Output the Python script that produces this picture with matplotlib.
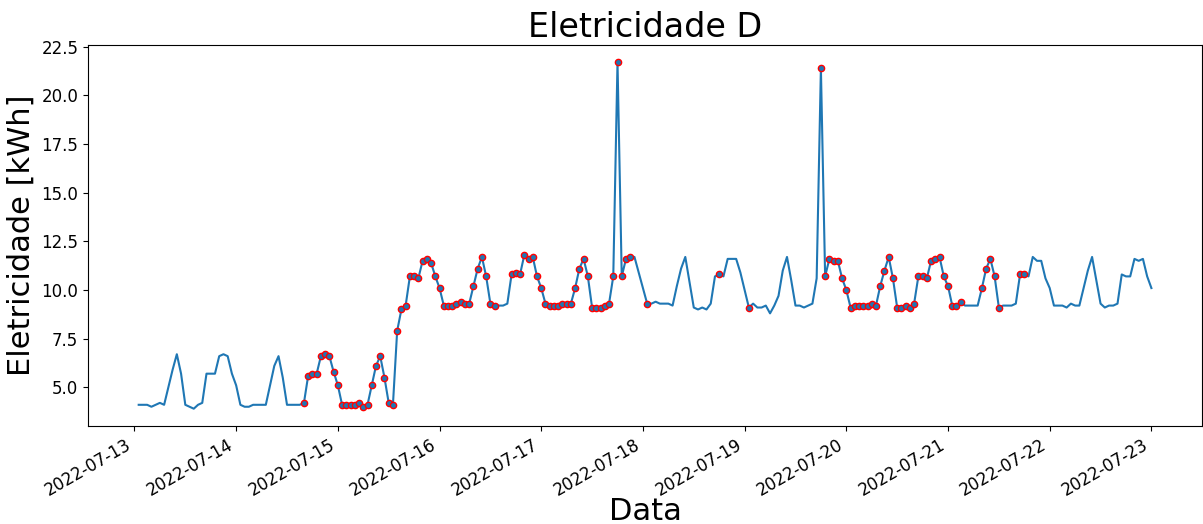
import numpy as np
import pandas as pd
import matplotlib
matplotlib.use('Agg')
import matplotlib.pyplot as plt
import matplotlib.dates as mdates

# consumo horario, 2022-07-13 01:00 ate 2022-07-23 00:00
inicio = "2022-07-13 01:00"
consumo = [
    4.1, 4.1, 4.1, 4.0, 4.1, 4.2, 4.1, 5.0, 5.9, 6.7, 5.7, 4.1,
    4.0, 3.9, 4.1, 4.2, 5.7, 5.7, 5.7, 6.6, 6.7, 6.6, 5.7, 5.1,
    4.1, 4.0, 4.0, 4.1, 4.1, 4.1, 4.1, 5.1, 6.1, 6.6, 5.5, 4.1,
    4.1, 4.1, 4.1, 4.2, 5.6, 5.7, 5.7, 6.6, 6.7, 6.6, 5.8, 5.1,
    4.1, 4.1, 4.1, 4.1, 4.2, 4.0, 4.1, 5.1, 6.1, 6.6, 5.5, 4.2,
    4.1, 7.9, 9.0, 9.2, 10.7, 10.7, 10.6, 11.5, 11.6, 11.4, 10.7, 10.1,
    9.2, 9.2, 9.2, 9.3, 9.4, 9.3, 9.3, 10.2, 11.1, 11.7, 10.7, 9.3,
    9.2, 9.2, 9.2, 9.3, 10.8, 10.9, 10.8, 11.8, 11.6, 11.7, 10.7, 10.1,
    9.3, 9.2, 9.2, 9.2, 9.3, 9.3, 9.3, 10.1, 11.1, 11.6, 10.7, 9.1,
    9.1, 9.1, 9.2, 9.3, 10.7, 21.7, 10.7, 11.6, 11.7, 11.7, 10.9, 10.1,
    9.3, 9.3, 9.4, 9.3, 9.3, 9.3, 9.2, 10.2, 11.1, 11.7, 10.4, 9.1,
    9.0, 9.1, 9.0, 9.3, 10.7, 10.8, 10.7, 11.6, 11.6, 11.6, 10.9, 10.0,
    9.1, 9.3, 9.1, 9.1, 9.2, 8.8, 9.2, 9.7, 11.0, 11.7, 10.5, 9.2,
    9.2, 9.1, 9.2, 9.3, 10.6, 21.4, 10.7, 11.6, 11.5, 11.5, 10.6, 10.0,
    9.1, 9.2, 9.2, 9.2, 9.2, 9.3, 9.2, 10.2, 11.0, 11.7, 10.6, 9.1,
    9.1, 9.2, 9.1, 9.3, 10.7, 10.7, 10.6, 11.5, 11.6, 11.7, 10.7, 10.2,
    9.2, 9.2, 9.4, 9.2, 9.2, 9.2, 9.2, 10.1, 11.1, 11.6, 10.7, 9.1,
    9.2, 9.2, 9.2, 9.3, 10.8, 10.8, 10.7, 11.7, 11.5, 11.5, 10.6, 10.1,
    9.2, 9.2, 9.2, 9.1, 9.3, 9.2, 9.2, 10.1, 11.0, 11.7, 10.5, 9.3,
    9.1, 9.2, 9.2, 9.3, 10.8, 10.7, 10.7, 11.6, 11.5, 11.6, 10.7, 10.1,
]

# posicoes (indice horario) dos pontos destacados
destaque = (list(range(39, 85)) + list(range(88, 117)) + [120, 137, 144]
            + list(range(161, 195)) + list(range(199, 204)) + [208, 209])

datas = pd.date_range(inicio, periods=len(consumo), freq="h")
serie = pd.Series(consumo, index=datas)
pontos = serie.iloc[destaque]

fig = plt.figure(figsize=(12.03, 5.24), dpi=100)
ax = fig.add_axes([0.0732, 0.187, 0.926, 0.727])
ax.plot(serie.index, serie.values, color="C0")
ax.plot(pontos.index, pontos.values, "o", color="C0", markersize=4.5,
        markeredgecolor="red", markeredgewidth=1)

ax.xaxis.set_major_locator(mdates.DayLocator())
ax.xaxis.set_major_formatter(mdates.DateFormatter("%Y-%m-%d"))
ax.set_yticks(np.arange(5, 22.6, 2.5))
ax.tick_params(labelsize=12)
for lbl in ax.get_xticklabels():
    lbl.set_rotation(30)
    lbl.set_ha("right")

ax.set_title("Eletricidade D", fontsize=24)
ax.set_xlabel("Data", fontsize=22, labelpad=-2)
ax.set_ylabel("Eletricidade [kWh]", fontsize=22)

fig.savefig("out.png")
